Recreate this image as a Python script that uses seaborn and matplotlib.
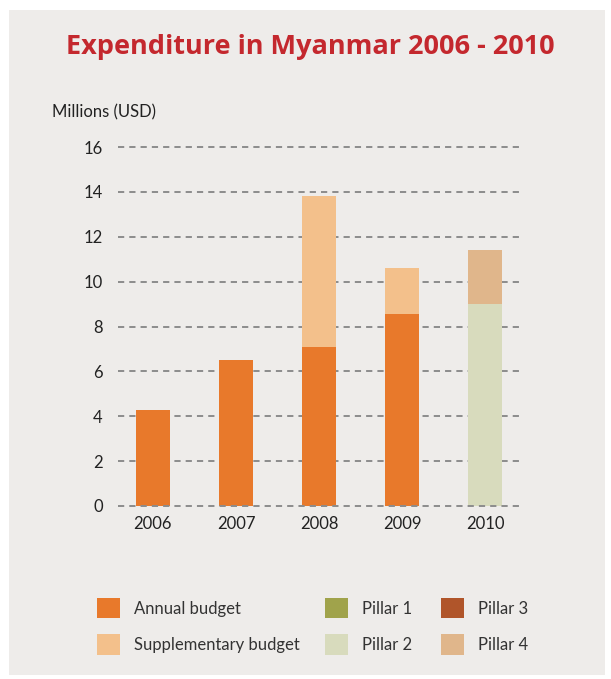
import matplotlib
matplotlib.use("Agg")
import matplotlib.pyplot as plt
import matplotlib.patches as mpatches
import seaborn as sns
import pandas as pd

years = ["2006", "2007", "2008", "2009", "2010"]
annual_budget = [4.3, 6.5, 7.1, 8.55, 0.0]
supplementary_budget = [0.0, 0.0, 6.7, 2.05, 0.0]
pillar_2 = [0.0, 0.0, 0.0, 0.0, 9.0]
pillar_4 = [0.0, 0.0, 0.0, 0.0, 2.4]
yticks = [0, 2, 4, 6, 8, 10, 12, 14, 16]

legend_columns = [["Annual budget", "Supplementary budget"], ["Pillar 1", "Pillar 2"], ["Pillar 3", "Pillar 4"]]
colors = {
    "Annual budget": "#e8792b",
    "Supplementary budget": "#f3c08b",
    "Pillar 1": "#a0a34b",
    "Pillar 2": "#d8dbbd",
    "Pillar 3": "#b0552a",
    "Pillar 4": "#e0b68b",
}

sns.set_theme(style="white")
body = ["Lato", "DejaVu Sans"]
plt.rcParams["font.family"] = body

bg = "#eeecea"
fig = plt.figure(figsize=(6.11, 6.79), dpi=100)
fig.patch.set_facecolor("white")
fig.add_artist(mpatches.Rectangle((9 / 611, 4 / 679), (605 - 9) / 611, (669 - 4) / 679,
                                  transform=fig.transFigure, facecolor=bg, edgecolor="none", zorder=0))

ax = fig.add_axes([118 / 611, 1 - 506 / 679, (520 - 118) / 611, (506 - 147) / 679])
ax.set_facecolor("none")

df = pd.DataFrame({
    "year": years,
    "annual": annual_budget,
    "supp": supplementary_budget,
    "p2": pillar_2,
    "p4": pillar_4,
})
df["annual_supp"] = df["annual"] + df["supp"]
df["p2_p4"] = df["p2"] + df["p4"]

w = 0.41
common = dict(x="year", width=w, saturation=1, ax=ax, linewidth=0, edgecolor="none")
sns.barplot(data=df, y="annual_supp", color=colors["Supplementary budget"], zorder=2, **common)
sns.barplot(data=df, y="annual", color=colors["Annual budget"], zorder=3, **common)
sns.barplot(data=df, y="p2_p4", color=colors["Pillar 4"], zorder=2, **common)
sns.barplot(data=df, y="p2", color=colors["Pillar 2"], zorder=3, **common)

ax.set_xlim(-0.42, 4.42)
ax.set_ylim(0, 16)
ax.set_yticks(yticks)
ax.set_yticklabels([str(v) for v in yticks], fontsize=12, color="#222222")
ax.tick_params(axis="x", labelsize=12, colors="#222222", length=0, pad=7)
ax.tick_params(axis="y", length=0, pad=11)
for v in yticks:
    ax.axhline(v, color="#8c8c8c", lw=1.4, dashes=(3.2, 2.6), zorder=1 if v > 0 else 4, clip_on=False)
for s in ax.spines.values():
    s.set_visible(False)
ax.set_xlabel("")
ax.set_ylabel("")
ax.grid(False)

fig.text(310 / 611, 1 - 47 / 679, "Expenditure in Myanmar 2006 - 2010", ha="center", va="center",
         fontsize=19.5, fontweight="bold", color="#c4282e", family=["Open Sans", "DejaVu Sans"])
fig.text(52 / 611, 1 - 112 / 679, "Millions (USD)", ha="left", va="center",
         fontsize=12, color="#222222")

col_x = [97, 325, 441]
for cx, labels in zip(col_x, legend_columns):
    handles = [mpatches.Patch(facecolor=colors[l], edgecolor="none", label=l) for l in labels]
    leg = fig.legend(handles=handles, loc="upper left", bbox_to_anchor=(cx / 611, 1 - 598 / 679),
                     frameon=False, fontsize=12, handlelength=1.4, handleheight=1.5,
                     handletextpad=0.85, labelspacing=0.95, borderpad=0, borderaxespad=0)
    for t in leg.get_texts():
        t.set_color("#333333")

fig.savefig("out.png", dpi=100, facecolor=fig.get_facecolor())
